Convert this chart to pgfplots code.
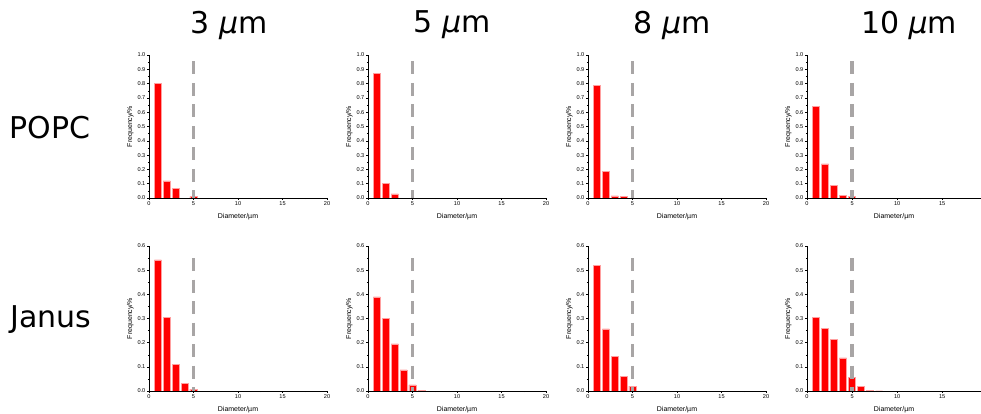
\documentclass[border=0pt]{standalone}
\usepackage{pgfplots}
\pgfplotsset{compat=1.18}
\usepackage{fontspec}
\setmainfont{Liberation Sans}
\newfontfamily\bigfont{DejaVu Sans}
\definecolor{dashgray}{RGB}{168,165,165}
\definecolor{baredge}{RGB}{255,160,160}
\pgfplotsset{
  hist/.style={
    scale only axis, axis lines*=left, anchor=south west,
    width=178pt, xmin=0, xmax=20, ymin=0,
    xtick={0,5,...,20}, minor x tick num=1, minor y tick num=1,
    tick align=outside, major tick length=2pt, minor tick length=1.2pt,
    tick style={black, line width=0.4pt},
    axis line style={black, line width=0.4pt},
    ticklabel style={font=\fontsize{5.6}{6.5}\selectfont, inner sep=1.5pt},
    label style={font=\fontsize{7}{8}\selectfont},
    xlabel={Diameter/µm}, ylabel={Frequency/\%},
    xlabel style={at={(axis description cs:0.5,-0.133)}, anchor=center},
    ylabel style={at={(axis description cs:-0.105,0.5)}, anchor=center},
    yticklabel style={/pgf/number format/.cd, fixed, fixed zerofill, precision=1},
    /pgf/number format/assume math mode=true,
  },
  top/.style={hist, height=143pt, ymax=1.0, ytick={0,0.1,...,1.0}},
  bot/.style={hist, height=145pt, ymax=0.6, ytick={0,0.1,...,0.6}},
  bars/.style={ybar, bar width=0.8, fill=red, draw=baredge, line width=0.5pt},
  dline/.style={dashgray, line width=3.5pt, dash pattern=on 13pt off 8.5pt},
}
\begin{document}
\begin{tikzpicture}
\useasboundingbox (0,0) rectangle (981pt,414pt);
% titles
\node[font=\bigfont\fontsize{30}{34}\selectfont] at (229pt,389pt) {3 \textit{μ}m};
\node[font=\bigfont\fontsize{30}{34}\selectfont] at (452pt,389pt) {5 \textit{μ}m};
\node[font=\bigfont\fontsize{30}{34}\selectfont] at (672pt,389pt) {8 \textit{μ}m};
\node[font=\bigfont\fontsize{30}{34}\selectfont] at (909pt,389pt) {10 \textit{μ}m};
\node[font=\bigfont\fontsize{30}{34}\selectfont] at (50pt,286pt) {POPC};
\node[font=\bigfont\fontsize{30}{34}\selectfont] at (51pt,94pt) {Janus};
% ---- POPC row
\begin{axis}[top, at={(149pt,216pt)}]
\addplot[bars] coordinates {(1,0.80) (2,0.12) (3,0.065) (5,0.01)};
\addplot[dline] coordinates {(5,0.955) (5,0)};
\end{axis}
\begin{axis}[top, at={(368pt,216pt)}]
\addplot[bars] coordinates {(1,0.87) (2,0.10) (3,0.028)};
\addplot[dline] coordinates {(5,0.955) (5,0)};
\end{axis}
\begin{axis}[top, at={(588pt,216pt)}]
\addplot[bars] coordinates {(1,0.785) (2,0.187) (3,0.015) (4,0.01)};
\addplot[dline] coordinates {(5,0.955) (5,0)};
\end{axis}
\begin{axis}[top, at={(807pt,216pt)}, width=174pt, xmax=19.3, xtick={0,5,10,15},
  ylabel style={at={(axis description cs:-0.107,0.5)}}]
\addplot[bars] coordinates {(1,0.64) (2,0.238) (3,0.088) (4,0.02) (5,0.01)};
\addplot[dline] coordinates {(5,0.955) (5,0)};
\end{axis}
% ---- Janus row
\begin{axis}[bot, at={(149pt,23pt)}, xlabel style={at={(axis description cs:0.5,-0.131)}}]
\addplot[bars] coordinates {(1,0.543) (2,0.305) (3,0.11) (4,0.033) (5,0.008)};
\addplot[dline] coordinates {(5,0.55) (5,0)};
\end{axis}
\begin{axis}[bot, at={(368pt,23pt)}, xlabel style={at={(axis description cs:0.5,-0.131)}}]
\addplot[bars] coordinates {(1,0.39) (2,0.30) (3,0.195) (4,0.087) (5,0.025) (6,0.002)};
\addplot[dline] coordinates {(5,0.55) (5,0)};
\end{axis}
\begin{axis}[bot, at={(588pt,23pt)}, xlabel style={at={(axis description cs:0.5,-0.131)}}]
\addplot[bars] coordinates {(1,0.52) (2,0.257) (3,0.143) (4,0.062) (5,0.02)};
\addplot[dline] coordinates {(5,0.55) (5,0)};
\end{axis}
\begin{axis}[bot, at={(807pt,23pt)}, width=174pt, xmax=19.3, xtick={0,5,10,15},
  xlabel style={at={(axis description cs:0.5,-0.131)}},
  ylabel style={at={(axis description cs:-0.107,0.5)}}]
\addplot[bars] coordinates {(1,0.306) (2,0.26) (3,0.213) (4,0.137) (5,0.057) (6,0.02) (7,0.004) (8,0.001)};
\addplot[dline] coordinates {(5,0.55) (5,0)};
\end{axis}
\end{tikzpicture}
\end{document}
